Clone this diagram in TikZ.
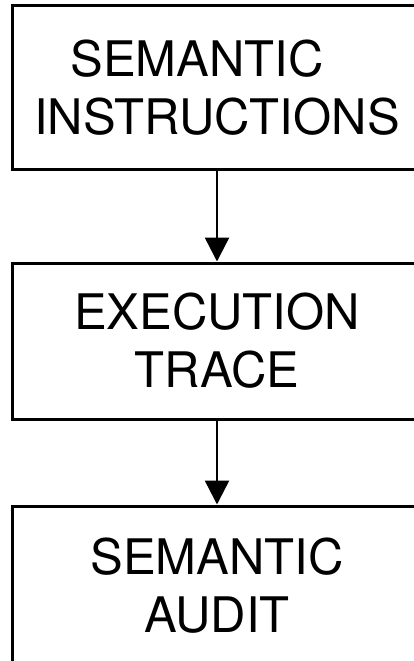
\documentclass[tikz,border=0pt]{standalone}
\usepackage{fontspec}
\setmainfont{TeX Gyre Heros}
\usetikzlibrary{arrows.meta}

\begin{document}
\begin{tikzpicture}[x=1pt, y=1pt,
    stage/.style={draw, line width=3pt, minimum width=410pt, align=center,
        inner sep=0pt, font=\fontsize{49}{58}\selectfont},
    flow/.style={line width=2.5pt, -{Triangle[width=24pt, length=24pt]}}]
    \useasboundingbox (0,0) rectangle (414,-661);

    \node[stage, minimum height=163pt] (instr) at (217,-87.5) {SEMANTIC\hspace{40pt}\null\\INSTRUCTIONS};
    \node[stage, minimum height=156pt] (trace) at (217,-341) {EXECUTION\\TRACE};
    \node[stage, minimum height=160pt] (audit) at (217,-586) {SEMANTIC\\AUDIT};

    \draw[flow] (instr) -- (trace);
    \draw[flow] (trace) -- (audit);

\end{tikzpicture}
\end{document}
